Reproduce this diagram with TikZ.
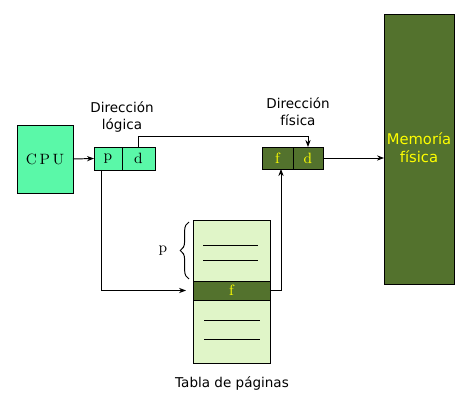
\documentclass[tikz,border=0pt]{standalone}
\usepackage{fontspec}
\usepackage{tikz}
\usetikzlibrary{arrows.meta,decorations.pathreplacing}
\newfontfamily\etiqueta{DejaVu Sans}
\definecolor{verdeclaro}{RGB}{90,248,168}
\definecolor{verdeoscuro}{RGB}{83,114,45}
\definecolor{verdetabla}{RGB}{224,245,200}
\definecolor{amarillo}{RGB}{255,255,0}
\tikzset{
	caja/.style={draw,rectangle,inner sep=0pt,outer sep=0pt,font=\fontsize{8.5}{10}\selectfont},
	clara/.style={caja,fill=verdeclaro},
	oscura/.style={caja,fill=verdeoscuro,text=amarillo},
	texto/.style={align=center,font=\etiqueta\fontsize{7.7}{9.6}\selectfont},
	flecha/.style={-{Stealth[length=4pt,width=3pt]}}
}

\begin{document}
\begin{tikzpicture}[x=0.02cm,y=-0.02cm,line width=0.55pt]
		\useasboundingbox (0,0) rectangle (471,412);
		%Nodos
		\node [clara,minimum width=1.12cm,minimum height=1.36cm] (cpu) at (45,159) {C\kern1.5pt P\kern1.5pt U};
		\node [clara,minimum width=0.56cm,minimum height=0.46cm] (logp) at (108,158.5) {p};
		\node [clara,minimum width=0.66cm,minimum height=0.46cm] (logd) at (138.5,158.5) {d};
		\node [oscura,minimum width=0.62cm,minimum height=0.44cm] (fisf) at (277.5,158) {f};
		\node [oscura,minimum width=0.60cm,minimum height=0.44cm] (fisd) at (308,158) {d};
		\node [oscura,minimum width=1.4cm,minimum height=5.42cm] (mem) at (419,149.5) {};
		\node [texto,text=amarillo,font=\etiqueta\fontsize{8.4}{10.2}\selectfont] (memtxt) at (419,148) {Memoría\\física};
		\node [caja,fill=verdetabla,minimum width=1.54cm,minimum height=1.22cm] (tabarr) at (231.5,250.5) {};
		\node [oscura,minimum width=1.54cm,minimum height=0.38cm] (marco) at (231.5,290.5) {f};
		\node [caja,fill=verdetabla,minimum width=1.54cm,minimum height=1.26cm] (tababj) at (231.5,331.5) {};
		\node [texto] (lblog) at (122,117) {Dirección\\lógica};
		\node [texto] (lbfis) at (298,112) {Dirección\\física};
		\node [texto] (lbtab) at (232,383) {Tabla de páginas};
		\node [font=\fontsize{8.5}{10}\selectfont] (lbp) at (163,251) {p};

		%Renglones de la tabla
		\draw (203,245)--(258,245);
		\draw (203,260)--(258,260);
		\draw (204,320)--(260,320);
		\draw (204,339)--(260,339);
		\draw [decorate,decoration={brace,amplitude=5pt}] (189,279)--(189,222);

		%Arcos
		\draw[flecha] (cpu.east)--(logp.west);
		\draw[flecha] (logd.north)--++(0,-11)-|(fisd.north);
		\draw[flecha] (fisd.east)--(fisd.east-|mem.west);
		\draw[flecha] ([xshift=-0.14cm]logp.south)|-([xshift=-0.14cm]marco.west);
		\draw[flecha] (marco.east)-|([xshift=0.07cm]fisf.south);
\end{tikzpicture}
\end{document}
